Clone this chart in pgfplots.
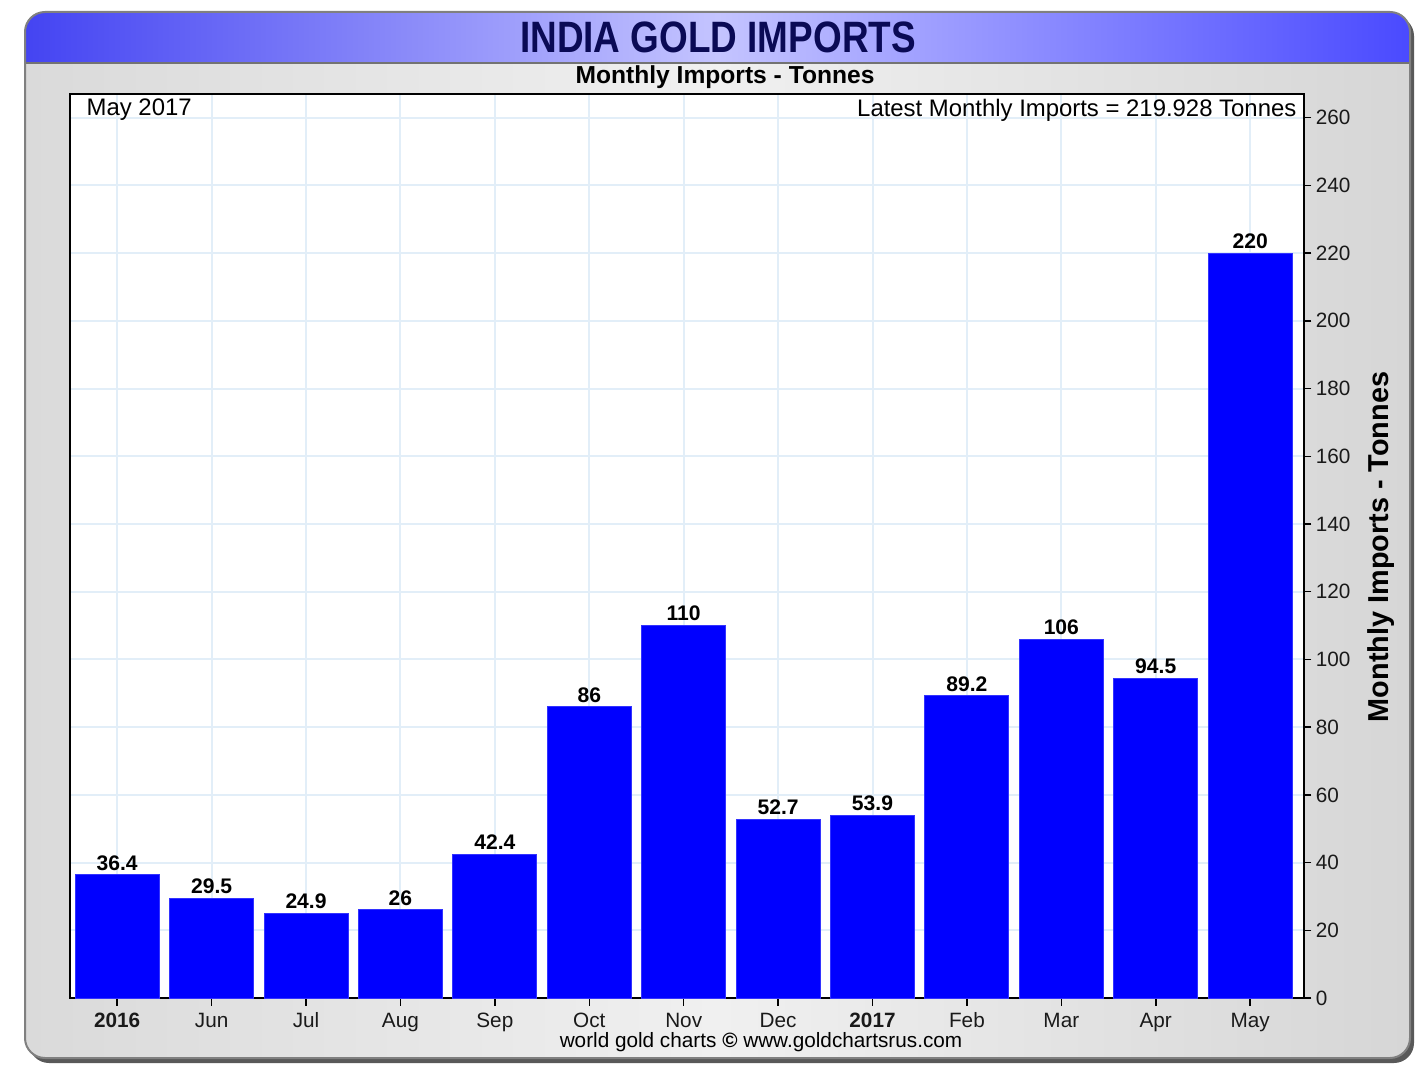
\documentclass[border=0pt]{standalone}
\usepackage{pgfplots}
\pgfplotsset{compat=1.18}
\usepackage{fontspec}
\setmainfont{Liberation Sans}
\definecolor{gridc}{HTML}{E2EEF8}
\definecolor{barc}{HTML}{0000FF}
\definecolor{titlec}{HTML}{0A0A55}
\definecolor{tbL}{HTML}{4444F2}
\definecolor{tbM}{HTML}{C4C4FF}
\definecolor{tbR}{HTML}{4A4AFF}
\definecolor{pnL}{HTML}{DADADA}
\definecolor{pnM}{HTML}{F0F0F0}
\definecolor{pnR}{HTML}{D6D6D6}
\definecolor{tickc}{HTML}{1A1A1A}
\begin{document}
\begin{tikzpicture}[x=0.1mm,y=0.1mm]
\fill[white] (0,0) rectangle (1424,1066);
% shadow and panel
\fill[black!65, rounded corners=2mm] (29,3) rectangle (1414,1050);
\shade[rounded corners=2mm, left color=pnL, right color=pnR, middle color=pnM] (25,8) rectangle (1410,1054);
\begin{scope}
\clip[rounded corners=2mm] (25,8) rectangle (1410,1054);
\shade[left color=tbL, right color=tbR, middle color=tbM] (25,1003) rectangle (1410,1054);
\end{scope}
\draw[black!55, line width=0.25mm] (25,1003) -- (1410,1003);
\draw[black!50, line width=0.2mm, rounded corners=2mm] (25,8) rectangle (1410,1054);
\node[font=\bfseries\fontsize{12.5}{14}\selectfont, text=titlec, xscale=0.84] at (718,1029) {INDIA GOLD IMPORTS};
\node[font=\bfseries\fontsize{7.0}{8}\selectfont, text=black] at (725,989) {Monthly Imports - Tonnes};
\begin{axis}[
  at={(7mm,6.8mm)}, anchor=south west,
  scale only axis, width=123.4mm, height=90.4mm,
  xmin=-0.5, xmax=12.57, ymin=0, ymax=267,
  xtick={0,...,12},
  xticklabels={\textbf{2016},Jun,Jul,Aug,Sep,Oct,Nov,Dec,\textbf{2017},Feb,Mar,Apr,May},
  ytick={0,20,...,260},
  yticklabel pos=right, ytick pos=right, xtick pos=left,
  tick align=outside, major tick length=0.75mm,
  tick style={black, line width=0.15mm},
  grid=major, major grid style={color=gridc, line width=0.2mm},
  axis line style={black, line width=0.22mm},
  axis background/.style={fill=white},
  /pgf/number format/assume math mode=true,
  ticklabel style={font=\fontsize{5.9}{7}\selectfont, text=tickc},
  xticklabel style={yshift=0.5mm},
  yticklabel style={xshift=-0.8mm},
  ybar, bar width=8.4mm,
  nodes near coords, point meta=explicit symbolic,
  nodes near coords style={font=\bfseries\fontsize{6.0}{7}\selectfont, text=black, inner sep=0.4mm, anchor=south},
]
\addplot[fill=barc, draw=barc!80!white, line width=0.1mm] coordinates {
(0,36.4) [36.4]
(1,29.5) [29.5]
(2,24.9) [24.9]
(3,26) [26]
(4,42.4) [42.4]
(5,86) [86]
(6,110) [110]
(7,52.7) [52.7]
(8,53.9) [53.9]
(9,89.2) [89.2]
(10,106) [106]
(11,94.5) [94.5]
(12,219.928) [220]
};
\end{axis}
\node[anchor=north west, inner sep=0, font=\fontsize{6.8}{8}\selectfont] at (86,968) {May 2017};
\node[anchor=north east, inner sep=0, font=\fontsize{6.8}{8}\selectfont] at (1297,968) {Latest Monthly Imports = 219.928 Tonnes};
\node[font=\fontsize{5.9}{7}\selectfont] at (761,24) {world gold charts \textbf{©} www.goldchartsrus.com};
\node[rotate=90, font=\bfseries\fontsize{8.2}{10}\selectfont] at (1381,519) {Monthly Imports - Tonnes};
\end{tikzpicture}
\end{document}
